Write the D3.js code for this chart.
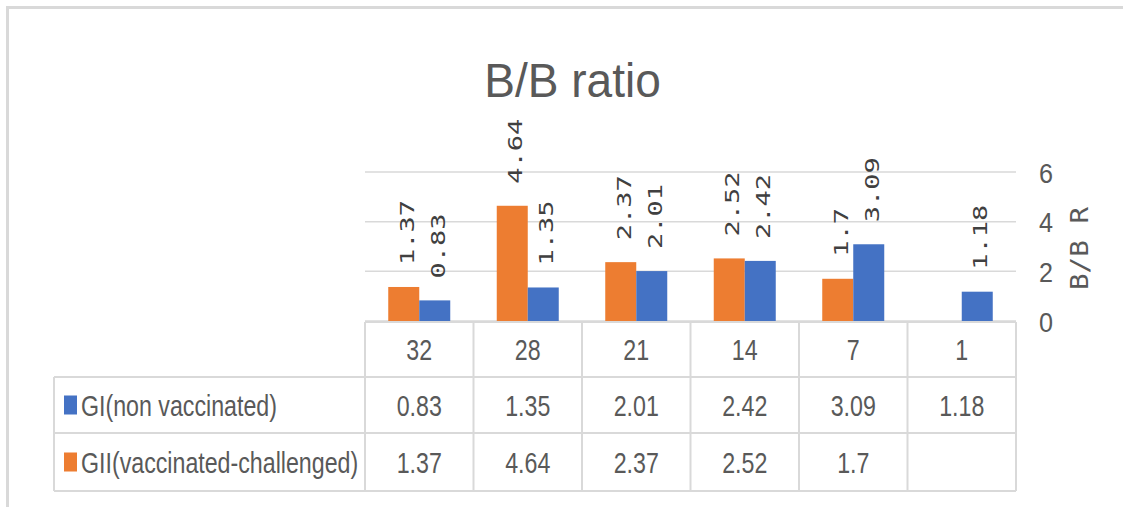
<!DOCTYPE html>
<html>
<head>
<meta charset="utf-8">
<script src="https://cdn.jsdelivr.net/npm/d3@7"></script>
<style>
  html, body { margin: 0; padding: 0; background: #fff; }
  svg { display: block; }
</style>
</head>
<body>
<script>
// Sampling days (columns of the data table, left to right)
const days = ["32", "28", "21", "14", "7", "1"];
// B/B ratio per group
const giValues = [0.83, 1.35, 2.01, 2.42, 3.09, 1.18];
const giiValues = [1.37, 4.64, 2.37, 2.52, 1.7, null];
const seriesNames = ["GI(non vaccinated)", "GII(vaccinated-challenged)"];
const yTicks = [0, 2, 4, 6];
const chartTitle = "B/B ratio";
const axisTitle = "B/B R";

const W = 1123, H = 507;
const blue = "#4472C4", orange = "#ED7D31";
const textGray = "#595959", labelGray = "#404040", lineGray = "#d9d9d9";
const sansFont = "'Liberation Sans', Arial, sans-serif";
const monoFont = "'DejaVu Sans Mono', monospace";

const svg = d3.select("body").append("svg")
  .attr("width", W).attr("height", H);

svg.append("rect").attr("width", W).attr("height", H).attr("fill", "#fff");

// Chart frame (top and left edges visible)
svg.append("line").attr("x1", 6).attr("x2", W).attr("y1", 7.5).attr("y2", 7.5)
  .attr("stroke", lineGray).attr("stroke-width", 3);
svg.append("line").attr("x1", 7.5).attr("x2", 7.5).attr("y1", 6).attr("y2", H)
  .attr("stroke", lineGray).attr("stroke-width", 3);

// Layout of plot and table
const plotLeft = 365, plotRight = 1016;
const rowEdges = [322, 377, 433, 491];
const legendLeft = 54;

const x = d3.scaleBand().domain(days).range([plotLeft, plotRight]).paddingInner(0).paddingOuter(0);
const series = ["gii", "gi"];
const xs = d3.scaleBand().domain(series).range([0, x.bandwidth()]).paddingInner(0).paddingOuter(0.75);
const y = d3.scaleLinear().domain([0, 6]).range([321, 172]);

// Title
svg.append("text")
  .attr("transform", `translate(572.5,97) scale(0.94,1)`)
  .attr("text-anchor", "middle")
  .attr("font-family", sansFont).attr("font-size", 49)
  .attr("fill", textGray)
  .text(chartTitle);

// Gridlines
svg.append("g").selectAll("line").data(yTicks).join("line")
  .attr("x1", plotLeft).attr("x2", plotRight)
  .attr("y1", d => y(d)).attr("y2", d => y(d))
  .attr("stroke", lineGray).attr("stroke-width", 1.5);

// Right value axis
const axis = d3.axisRight(y).tickValues(yTicks).tickSize(0).tickPadding(0)
  .tickFormat(d3.format("d"));
const axisG = svg.append("g").attr("transform", `translate(1046,0)`).call(axis);
axisG.select(".domain").remove();
axisG.selectAll("text")
  .attr("x", 0).attr("dy", null).attr("y", 10)
  .attr("text-anchor", "middle")
  .attr("transform", "scale(0.9,1)")
  .attr("font-family", sansFont).attr("font-size", 28)
  .attr("fill", textGray);

// Axis title (rotated)
svg.append("text")
  .attr("transform", `translate(1088,248.5) rotate(-90) scale(1.15,1)`)
  .attr("text-anchor", "middle")
  .attr("font-family", monoFont).attr("font-size", 24)
  .attr("fill", textGray)
  .text(axisTitle);

// Bars
const rows = days.map((d, i) => ({ day: d, gi: giValues[i], gii: giiValues[i] }));
const barData = [];
rows.forEach(r => {
  if (r.gii != null) barData.push({ day: r.day, key: "gii", v: r.gii, color: orange });
  if (r.gi != null) barData.push({ day: r.day, key: "gi", v: r.gi, color: blue });
});

svg.append("g").selectAll("rect").data(barData).join("rect")
  .attr("x", d => x(d.day) + xs(d.key))
  .attr("width", xs.bandwidth())
  .attr("y", d => y(d.v))
  .attr("height", d => y(0) - y(d.v))
  .attr("fill", d => d.color);

// Rotated data labels above each bar
svg.append("g").selectAll("text").data(barData).join("text")
  .attr("transform", d => {
    const cx = x(d.day) + xs(d.key) + xs.bandwidth() / 2 + 10;
    const cy = y(d.v) - 22;
    return `translate(${cx},${cy}) rotate(-90) scale(1.35,1)`;
  })
  .attr("text-anchor", "start")
  .attr("font-family", monoFont).attr("font-size", 20)
  .attr("fill", labelGray)
  .text(d => String(d.v));

// Data table
const table = svg.append("g");
const colEdges = days.map(d => x(d)).concat([plotRight]);
// vertical lines between day columns
table.selectAll("line.v").data(colEdges).join("line").attr("class", "v")
  .attr("x1", d => d).attr("x2", d => d)
  .attr("y1", rowEdges[0]).attr("y2", rowEdges[3])
  .attr("stroke", lineGray).attr("stroke-width", 2);
// legend column left edge
table.append("line")
  .attr("x1", legendLeft).attr("x2", legendLeft)
  .attr("y1", rowEdges[1]).attr("y2", rowEdges[3])
  .attr("stroke", lineGray).attr("stroke-width", 2);
// horizontal lines
table.selectAll("line.h").data(rowEdges).join("line").attr("class", "h")
  .attr("x1", (d, i) => i === 0 ? plotLeft : legendLeft).attr("x2", plotRight)
  .attr("y1", d => d).attr("y2", d => d)
  .attr("stroke", lineGray).attr("stroke-width", 2);

const rowMid = i => (rowEdges[i] + rowEdges[i + 1]) / 2;
const tableText = (g, tx, ty, str, anchor) => g.append("text")
  .attr("transform", `translate(${tx},${ty}) scale(0.8,1)`)
  .attr("text-anchor", anchor)
  .attr("font-family", sansFont).attr("font-size", 29)
  .attr("fill", textGray)
  .text(str);

// header row: days
days.forEach(d => tableText(table, x(d) + x.bandwidth() / 2, rowMid(0) + 10.5, d, "middle"));

// series rows
const seriesRows = [
  { name: seriesNames[0], color: blue, values: giValues },
  { name: seriesNames[1], color: orange, values: giiValues }
];
seriesRows.forEach((s, i) => {
  const mid = rowMid(i + 1);
  table.append("rect")
    .attr("x", 64).attr("y", mid - 9.5)
    .attr("width", 13).attr("height", 19)
    .attr("fill", s.color);
  tableText(table, 81, mid + 10.5, s.name, "start");
  s.values.forEach((v, j) => {
    if (v == null) return;
    tableText(table, x(days[j]) + x.bandwidth() / 2, mid + 10.5, String(v), "middle");
  });
});
</script>
</body>
</html>
